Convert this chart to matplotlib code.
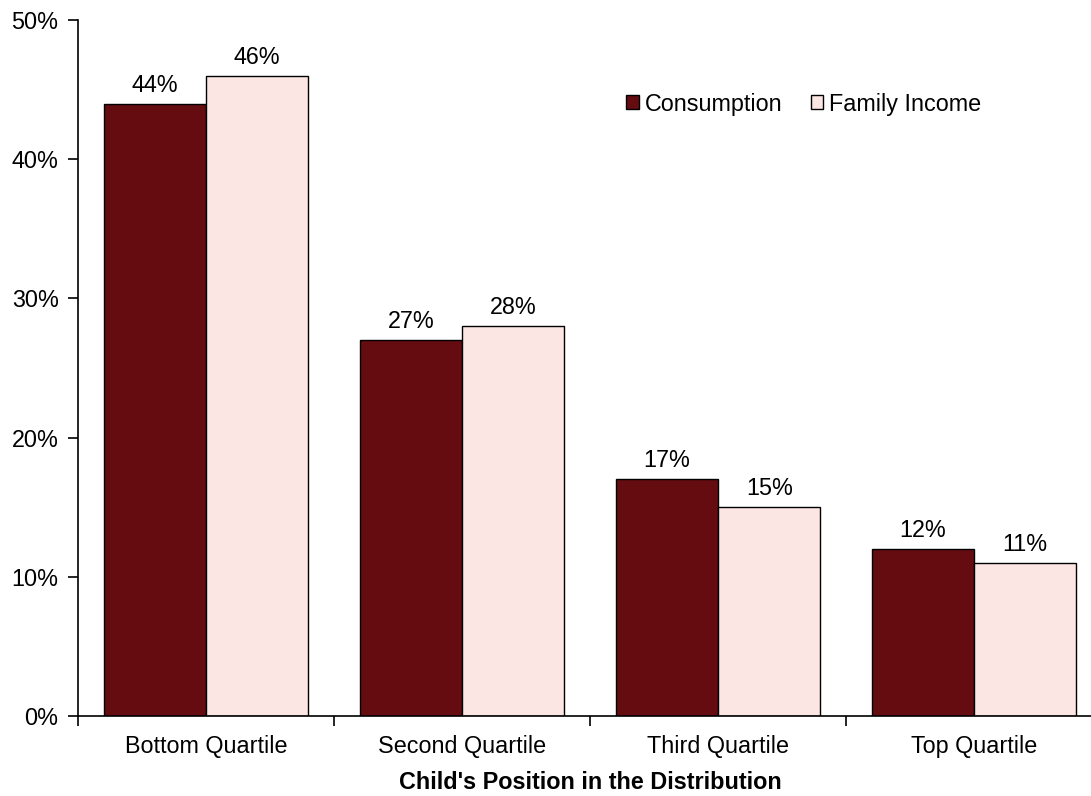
import matplotlib
matplotlib.use("Agg")
import matplotlib.pyplot as plt
from matplotlib.ticker import FixedLocator, NullFormatter, FixedFormatter

categories = ["Bottom Quartile", "Second Quartile", "Third Quartile", "Top Quartile"]
consumption = [44, 27, 17, 12]
family_income = [46, 28, 15, 11]
series_names = ["Consumption", "Family Income"]
yticks = [0, 10, 20, 30, 40, 50]

plt.rcParams["font.family"] = ["Liberation Sans", "DejaVu Sans"]
FS = 16.8

W, H = 1091, 796
fig = plt.figure(figsize=(W / 100, H / 100), dpi=100)
left, right, top, bottom = 78, 1102, 20, 716
ax = fig.add_axes([left / W, 1 - bottom / H, (right - left) / W, (bottom - top) / H])

dark = "#640C10"
light = "#FCE6E4"
bw = 0.4
x = list(range(len(categories)))
b1 = ax.bar([i - bw / 2 for i in x], consumption, bw, color=dark, edgecolor="black",
            linewidth=1.0, label=series_names[0])
b2 = ax.bar([i + bw / 2 for i in x], family_income, bw, color=light, edgecolor="black",
            linewidth=1.0, label=series_names[1])

for bars, vals in ((b1, consumption), (b2, family_income)):
    for rect, v in zip(bars, vals):
        ax.annotate(f"{v}%", (rect.get_x() + rect.get_width() / 2, v),
                    xytext=(0, 5), textcoords="offset points",
                    ha="center", va="bottom", fontsize=FS)

ax.set_xlim(-0.5, len(categories) - 0.5)
ax.set_ylim(0, 50)
ax.set_yticks(yticks)
ax.set_yticklabels([f"{t}%" for t in yticks])

ax.xaxis.set_major_locator(FixedLocator([i + 0.5 for i in range(len(categories) - 1)] + [-0.5]))
ax.xaxis.set_major_formatter(NullFormatter())
ax.xaxis.set_minor_locator(FixedLocator(x))
ax.xaxis.set_minor_formatter(FixedFormatter(categories))
ax.tick_params(axis="x", which="major", direction="out", length=7, width=1.2)
ax.tick_params(axis="x", which="minor", length=0, pad=14, labelsize=FS)
ax.tick_params(axis="y", direction="out", length=7, width=1.2, pad=7, labelsize=FS)

for s in ("top", "right"):
    ax.spines[s].set_visible(False)
for s in ("left", "bottom"):
    ax.spines[s].set_linewidth(1.2)

ax.set_xlabel("Child's Position in the Distribution", fontsize=FS, fontweight="bold", labelpad=9)

ax.legend(loc="upper left", bbox_to_anchor=(0.515, 0.926), ncol=2, frameon=False,
          fontsize=FS, handlelength=0.55, handleheight=0.55, handletextpad=0.25,
          columnspacing=1.2)

fig.savefig("out.png", dpi=100)
